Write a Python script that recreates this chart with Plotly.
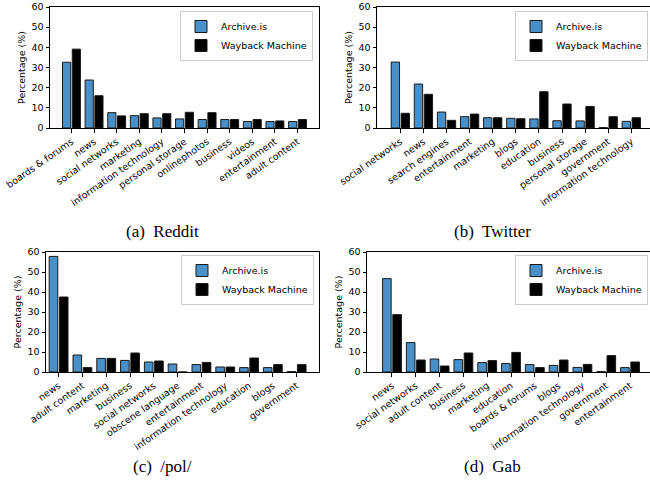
import plotly.graph_objects as go

# ---------------- data ----------------
reddit_cats = ["boards & forums", "news", "social networks", "marketing", "information technology",
               "personal storage", "onlinephotos", "business", "videos", "entertainment", "adult content"]
reddit_archive = [32.6, 23.8, 7.6, 6.1, 5.0, 4.5, 4.2, 4.2, 3.2, 3.2, 3.2]
reddit_wayback = [39.1, 16.0, 6.0, 7.1, 7.1, 7.8, 7.6, 4.2, 4.2, 3.5, 4.2]

twitter_cats = ["social networks", "news", "search engines", "entertainment", "marketing", "blogs",
                "education", "business", "personal storage", "government", "information technology"]
twitter_archive = [32.7, 21.8, 7.9, 5.6, 5.1, 4.8, 4.5, 3.6, 3.5, 0.2, 3.3]
twitter_wayback = [7.3, 16.7, 3.8, 6.9, 5.1, 4.6, 18.0, 11.9, 10.7, 5.6, 5.1]

pol_cats = ["news", "adult content", "marketing", "business", "social networks", "obscene language",
            "entertainment", "information technology", "education", "blogs", "government"]
pol_archive = [57.8, 8.5, 6.8, 5.8, 5.0, 4.0, 3.7, 2.5, 2.2, 2.2, 0.2]
pol_wayback = [37.5, 2.2, 6.8, 9.5, 5.5, 0.0, 4.8, 2.5, 7.0, 3.7, 3.7]

gab_cats = ["news", "social networks", "adult content", "business", "marketing", "education",
            "boards & forums", "blogs", "information technology", "government", "entertainment"]
gab_archive = [46.7, 14.7, 6.5, 6.2, 4.7, 4.2, 3.7, 3.3, 2.3, 0.2, 2.2]
gab_wayback = [28.7, 6.0, 3.0, 9.5, 5.7, 9.8, 2.2, 6.0, 3.8, 8.2, 5.0]

captions = ["(a)\u00a0 Reddit", "(b)\u00a0 Twitter", "(c)\u00a0 /pol/", "(d)\u00a0 Gab"]
series_names = ["Archive.is", "Wayback Machine"]

# ---------------- style ----------------
W, H = 650, 487
BLUE = "#4a90c8"
BLACK = "#000000"
FONT = "DejaVu Sans"
FS = 9.5


def px_x(p):
    return p / W


def px_y(p):
    return 1 - p / H


panels = [
    # cats, archive, wayback, x-domain px, y-domain px (top,bottom), x-range, legend (right px, top px), caption (x px, y px)
    (reddit_cats, reddit_archive, reddit_wayback, (50, 319), (7, 128), (-0.95, 10.95), (313, 11), (163, 232)),
    (twitter_cats, twitter_archive, twitter_wayback, (377, 650), (7, 128), (-1.01, 10.81), (648, 11), (492, 232)),
    (pol_cats, pol_archive, pol_wayback, (46, 319), (252, 372), (-0.53, 10.94), (314, 255), (162, 466)),
    (gab_cats, gab_archive, gab_wayback, (367, 650), (252, 372), (-1.05, 10.84), (648, 255), (492, 466)),
]

fig = go.Figure()
layout = {}
annotations = []

for i, (cats, arch, way, xd, yd, xr, lg, cap) in enumerate(panels):
    n = "" if i == 0 else str(i + 1)
    xa, ya = "x" + n, "y" + n
    leg = "legend" + n
    for name, vals, col in [(series_names[0], arch, BLUE), (series_names[1], way, BLACK)]:
        fig.add_trace(go.Bar(
            x=cats, y=vals, name=name, xaxis=xa, yaxis=ya, legend=leg,
            marker=dict(color=col, line=dict(color="#1a1a1a", width=1)),
        ))
    layout["xaxis" + n] = dict(
        domain=[px_x(xd[0]), px_x(xd[1])], anchor=ya, type="category", range=list(xr),
        showline=True, mirror=True, linecolor="black", linewidth=1,
        ticks="outside", ticklen=3.5, tickwidth=1, tickcolor="black",
        tickangle=-35, tickfont=dict(family=FONT, size=FS, color="black"),
        showgrid=False, zeroline=False, automargin=False,
    )
    layout["yaxis" + n] = dict(
        domain=[px_y(yd[1]), px_y(yd[0])], anchor=xa, range=[0, 60], dtick=10,
        showline=True, mirror=True, linecolor="black", linewidth=1,
        ticks="outside", ticklen=3.5, tickwidth=1, tickcolor="black",
        tickfont=dict(family=FONT, size=FS, color="black"),
        title=dict(text="Percentage (%)", font=dict(family=FONT, size=FS, color="black"), standoff=4),
        showgrid=False, zeroline=False, automargin=False,
    )
    layout[leg] = dict(
        x=px_x(lg[0]), y=px_y(lg[1]), xanchor="right", yanchor="top",
        bgcolor="rgba(255,255,255,0.8)", bordercolor="#cccccc", borderwidth=1,
        font=dict(family=FONT, size=FS, color="black"),
        tracegroupgap=0,
    )
    annotations.append(dict(
        text=captions[i], x=px_x(cap[0]), y=px_y(cap[1]), xref="paper", yref="paper",
        xanchor="center", yanchor="middle", showarrow=False,
        font=dict(family="Liberation Serif", size=17, color="black"),
    ))

fig.update_layout(
    width=W, height=H, margin=dict(l=0, r=0, t=0, b=0, autoexpand=False),
    paper_bgcolor="white", plot_bgcolor="white",
    barmode="group", bargap=0.14, bargroupgap=0.16,
    annotations=annotations, showlegend=True,
    **layout,
)

fig.write_html(
    "out.html",
    config={"displayModeBar": False},
    post_script="document.body.style.margin='0';document.body.style.overflow='hidden';",
)
